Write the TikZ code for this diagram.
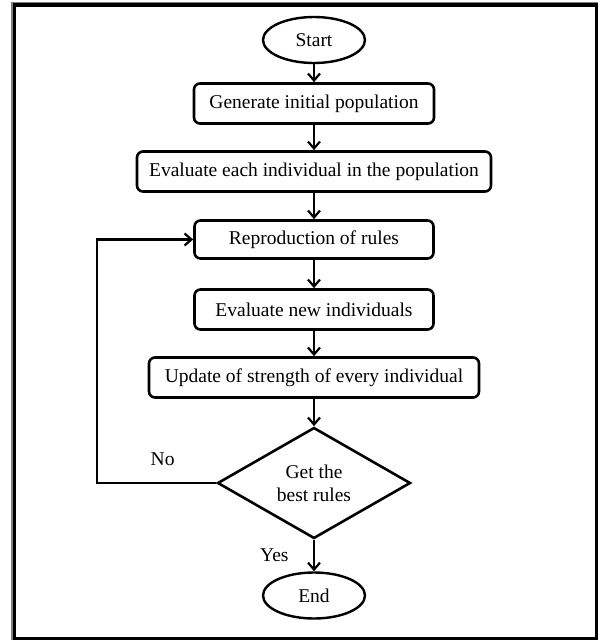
\documentclass[tikz,border=0pt]{standalone}
\usepackage{fontspec}
\setmainfont{Liberation Serif}
\usetikzlibrary{arrows.meta, positioning, shapes.geometric}
\tikzstyle{terminal}=[ellipse, draw, line width=2.4pt, minimum width=102pt, minimum height=46pt, inner sep=0pt]
\tikzstyle{process}=[rectangle, draw, line width=2.6pt, rounded corners=6pt, minimum height=40pt, inner sep=0pt]
\tikzstyle{decision}=[diamond, draw, line width=2.6pt, minimum width=193pt, minimum height=111pt, inner sep=0pt, aspect=1.74, align=center]
\tikzstyle{feed}=[<-, line width=2.2pt, >={Straight Barb[length=7pt,width=12pt]}]

\begin{document}
\begin{tikzpicture}[node distance=68pt, font=\fontsize{19.5}{23}\selectfont]
  \useasboundingbox (-314pt,40pt) rectangle (286pt,-600pt);
  % frame
  \draw[gray, line width=2pt] (-301.5pt,37pt) rectangle (282.5pt,-598.5pt);
  \draw[line width=3.5pt] (-299.5pt,35pt) rectangle (282.5pt,-598.5pt);

  \node[terminal] (start) {Start};
  \node[process, minimum width=240pt] (gen) [below of=start, yshift=4.5pt] {Generate initial population}
    edge [feed] (start);
  \node[process, minimum width=354pt] (eval) [below of=gen] {Evaluate each individual in the population}
    edge [feed] (gen);
  \node[process, minimum width=239pt, minimum height=38pt] (repro) [below of=eval] {Reproduction of rules}
    edge [feed] (eval);
  \node[process, minimum width=239pt] (evalnew) [below of=repro, yshift=-2pt] {Evaluate new individuals}
    edge [feed] (repro);
  \node[process, minimum width=330pt] (update) [below of=evalnew] {Update of strength of every individual}
    edge [feed] (evalnew);
  \node[decision] (dec) [below of=update, yshift=-37.5pt] {Get the\\best rules}
    edge [feed] (update);
  \node[terminal] (end) [below of=dec, yshift=-44.5pt] {End}
    edge [feed] node[left=21pt] {Yes} (dec);

  % loop back
  \draw[feed] (repro.west) -- ++(-96pt,0) |- node[above=13pt, pos=0.775] {No} (dec.west);
\end{tikzpicture}
\end{document}
